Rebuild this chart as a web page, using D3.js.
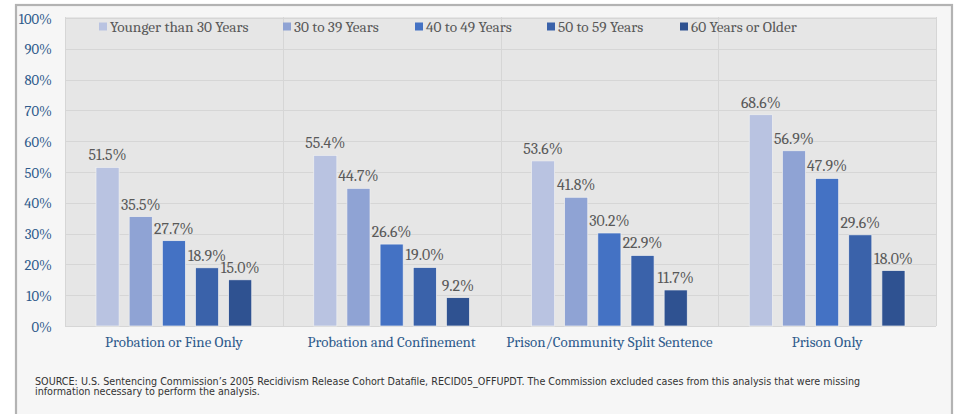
<!DOCTYPE html>
<html><head><meta charset="utf-8">
<script src="https://cdn.jsdelivr.net/npm/d3@7"></script>
<style>body{margin:0;background:#fff}svg{display:block}</style>
</head><body>
<svg id="chart" width="956" height="414"></svg>
<script>
const categories = ["Probation or Fine Only","Probation and Confinement","Prison/Community Split Sentence","Prison Only"];
const seriesNames = ["Younger than 30 Years","30 to 39 Years","40 to 49 Years","50 to 59 Years","60 Years or Older"];
const seriesColors = ["#b9c3e1","#8fa3d4","#4472c4","#3a62aa","#2f5291"];
const younger30 = [51.5,55.4,53.6,68.6];
const age30to39 = [35.5,44.7,41.8,56.9];
const age40to49 = [27.7,26.6,30.2,47.9];
const age50to59 = [18.9,19.0,22.9,29.6];
const age60plus = [15.0,9.2,11.7,18.0];
const seriesValues = [younger30,age30to39,age40to49,age50to59,age60plus];
const yTicks = [0,10,20,30,40,50,60,70,80,90,100];
const sourceLines = ["SOURCE: U.S. Sentencing Commission\u2019s 2005 Recidivism Release Cohort Datafile, RECID05_OFFUPDT. The Commission excluded cases from this analysis that were missing","information necessary to perform the analysis."];

const svg = d3.select("#chart");
const serif = "Cambria, 'Liberation Serif', 'DejaVu Serif', serif";
const sans = "'Century Gothic', 'DejaVu Sans', sans-serif";

// outer panel
svg.append("rect").attr("x",16).attr("y",5).attr("width",936).attr("height",420)
  .attr("fill","#f6f6f6").attr("stroke","#b3b3b3").attr("stroke-width",2.2);

const L=65, R=936, T=17, B=326;
svg.append("rect").attr("x",L).attr("y",T).attr("width",R-L).attr("height",B-T).attr("fill","#e6e6e6");

const x0 = d3.scaleBand().domain(categories).range([L,R]).paddingInner(0).paddingOuter(0);
const x1 = d3.scaleBand().domain(d3.range(seriesNames.length)).range([31, x0.bandwidth()-31]).paddingInner(10/33).paddingOuter(0);
const y = d3.scaleLinear().domain([0,100]).range([B,18]);

// gridlines
svg.append("g").selectAll("line").data(yTicks).join("line")
  .attr("x1",L).attr("x2",R).attr("y1",d=>Math.round(y(d))+0.5).attr("y2",d=>Math.round(y(d))+0.5)
  .attr("stroke","#d6d6d6").attr("stroke-width",1);
svg.append("g").selectAll("line").data(categories.concat(["end"])).join("line")
  .attr("x1",(d,i)=> i<categories.length? Math.round(x0(d))+0.5 : R+0.5)
  .attr("x2",(d,i)=> i<categories.length? Math.round(x0(d))+0.5 : R+0.5)
  .attr("y1",T).attr("y2",B).attr("stroke","#d6d6d6").attr("stroke-width",1);

// y axis labels
const yAxis = d3.axisLeft(y).tickValues(yTicks).tickFormat(d=>d+"%").tickSize(0).tickPadding(0);
const ga = svg.append("g").attr("transform",`translate(52,0)`).call(yAxis);
ga.select(".domain").remove();
ga.selectAll("text").attr("font-family",serif).attr("font-size",14.6).attr("fill","#2f5b8c").attr("dy","0.35em");

// bars
const groups = svg.append("g").selectAll("g").data(categories).join("g")
  .attr("transform",d=>`translate(${x0(d)},0)`);
groups.each(function(cat,ci){
  const g = d3.select(this);
  const data = seriesValues.map((s,si)=>({si, v:s[ci]}));
  g.selectAll("rect").data(data).join("rect")
    .attr("x",d=>x1(d.si)).attr("width",x1.bandwidth())
    .attr("y",d=>y(d.v)).attr("height",d=>B-y(d.v))
    .attr("fill",d=>seriesColors[d.si]).attr("stroke","#f0f0f0").attr("stroke-width",0.7);
  g.selectAll("text").data(data).join("text")
    .attr("x",d=>x1(d.si)+x1.bandwidth()/2).attr("y",d=>y(d.v)-7)
    .attr("text-anchor","middle").attr("font-family",serif).attr("font-size",15.8)
    .attr("fill","#595959").text(d=>d.v.toFixed(1)+"%");
});

// category labels
svg.append("g").selectAll("text").data(categories).join("text")
  .attr("x",d=>x0(d)+x0.bandwidth()/2).attr("y",347)
  .attr("text-anchor","middle").attr("font-family",serif).attr("font-size",14.9)
  .attr("fill","#2f5b8c").text(d=>d);

// legend
const legendX = [99,283,415,547,680];
const lg = svg.append("g").selectAll("g").data(seriesNames).join("g")
  .attr("transform",(d,i)=>`translate(${legendX[i]},0)`);
lg.append("rect").attr("x",0).attr("y",22.5).attr("width",8).attr("height",8).attr("fill",(d,i)=>seriesColors[i]);
lg.append("text").attr("x",11).attr("y",31.5).attr("font-family",serif).attr("font-size",15.3)
  .attr("fill","#595959").text(d=>d);

// source
svg.append("g").selectAll("text").data(sourceLines).join("text")
  .attr("x",35).attr("y",(d,i)=>385+i*9.5).attr("font-family",sans).attr("font-size",9.6)
  .attr("fill","#333").text(d=>d);
</script>
</body></html>
